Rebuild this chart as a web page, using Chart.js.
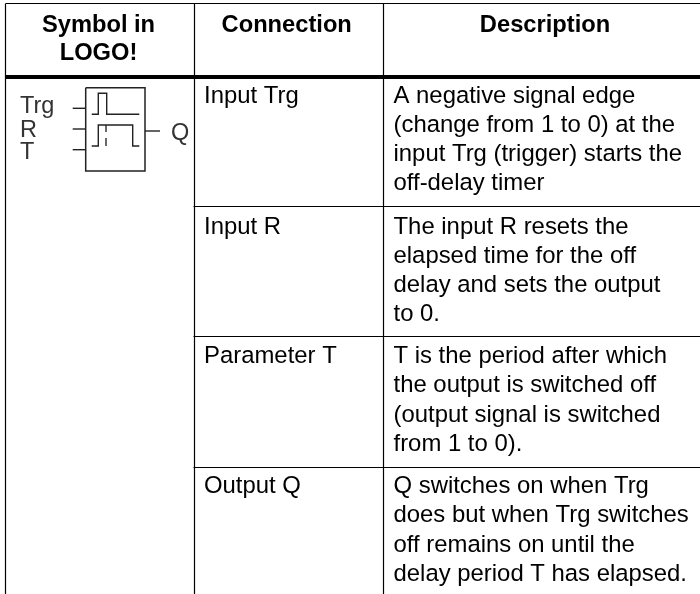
<!DOCTYPE html>
<html><head><meta charset="utf-8">
<style>html,body{margin:0;padding:0;background:#fff}canvas{display:block}</style>
<script src="https://cdn.jsdelivr.net/npm/chart.js@4"></script>
</head><body><canvas id="c" width="700" height="594"></canvas>
<script>
const headers = [["Symbol in","LOGO!"],["Connection"],["Description"]];
const headerCenters = [98.5,286.7,545];
const connections = ["Input Trg","Input R","Parameter T","Output Q"];
const descriptions = [
 ["A negative signal edge","(change from 1 to 0) at the","input Trg (trigger) starts the","off-delay timer"],
 ["The input R resets the","elapsed time for the off","delay and sets the output","to 0."],
 ["T is the period after which","the output is switched off","(output signal is switched","from 1 to 0)."],
 ["Q switches on when Trg","does but when Trg switches","off remains on until the","delay period T has elapsed."]
];
const symbolLabels = [["Trg",20,113],["R",20,137],["T",20,159],["Q",171,140]];
const columnEdges = [5.5,194.5,383.5,700];
const rowEdges = [3.5,77,206.5,336.5,467.5,594];
const rowBaselines = [103,234,363.3,493.3];
const box = [[85.7,87.7],[145,87.7],[145,171],[85.7,171],[85.7,87.7]];
const pins = [[[72.7,108.3],[85.7,108.3]],[[72.7,129],[85.7,129]],[[72.7,149.7],[85.7,149.7]],[[145,131],[160,131]]];
const wave1 = [[91.7,114.3],[98.3,114.3],[98.3,93.3],[106.7,93.3],[106.7,114.3],[139.3,114.3]];
const wave2 = [[91.7,146],[98.3,146],[98.3,125],[132.7,125],[132.7,146],[139.3,146]];
const waveMark = [[[106,125],[106,132]],[[106,138],[106,146]]];

const seg = (pts,w,color)=>({data:pts.map(p=>({x:p[0],y:p[1]})),borderColor:color,borderWidth:w,pointRadius:0,showLine:true,tension:0,fill:false,clip:false});
const datasets = [];
const [x0,x1,x2,x3] = columnEdges;
datasets.push(seg([[x0,rowEdges[0]],[x3,rowEdges[0]]],1.2,'#000'));
datasets.push(seg([[x0,rowEdges[1]],[x3,rowEdges[1]]],4,'#000'));
[2,3,4].forEach(i=>datasets.push(seg([[x1-1,rowEdges[i]],[x3,rowEdges[i]]],1,'#000')));
[x0,x1,x2].forEach(x=>datasets.push(seg([[x,rowEdges[0]],[x,rowEdges[5]]],1.2,'#000')));
datasets.push(seg(box,1.5,'#222'));
pins.forEach(p=>datasets.push(seg(p,1.4,'#222')));
datasets.push(seg(wave1,1.4,'#222'));
datasets.push(seg(wave2,1.4,'#222'));
waveMark.forEach(p=>datasets.push(seg(p,1,'#555')));

const textPlugin = {id:'tableText',afterDatasetsDraw(ch){
  const {ctx,scales:{x,y}} = ch;
  ctx.save();ctx.textBaseline='alphabetic';ctx.fillStyle='#000';
  ctx.font='bold 23.7px "Liberation Sans"';ctx.textAlign='center';
  headers.forEach((ls,c)=>ls.forEach((t,i)=>ctx.fillText(t,x.getPixelForValue(headerCenters[c]),y.getPixelForValue(32+i*28))));
  ctx.font='23.9px "Liberation Sans"';ctx.textAlign='left';
  connections.forEach((t,r)=>ctx.fillText(t,x.getPixelForValue(x1+9.5),y.getPixelForValue(rowBaselines[r])));
  descriptions.forEach((ls,r)=>ls.forEach((t,i)=>ctx.fillText(t,x.getPixelForValue(x2+10),y.getPixelForValue(rowBaselines[r]+i*29.1))));
  ctx.fillStyle='#333';ctx.font='23.5px "Liberation Sans"';
  symbolLabels.forEach(([t,a,b])=>ctx.fillText(t,x.getPixelForValue(a),y.getPixelForValue(b)));
  ctx.restore();
}};
new Chart(document.getElementById('c'),{type:'scatter',data:{datasets},plugins:[textPlugin],options:{
  responsive:false,animation:false,layout:{padding:0},
  plugins:{legend:{display:false},tooltip:{enabled:false},title:{display:false}},
  scales:{x:{type:'linear',min:0,max:700,display:false},y:{type:'linear',min:0,max:594,reverse:true,display:false}}
}});
</script></body></html>
